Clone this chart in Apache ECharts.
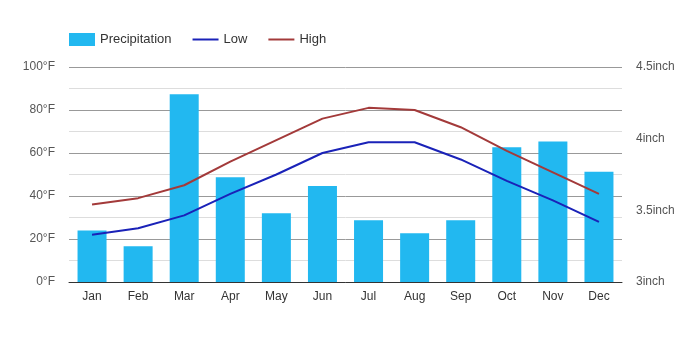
<!DOCTYPE html>
<html>
<head>
<meta charset="utf-8">
<script src="https://cdn.jsdelivr.net/npm/echarts@6/dist/echarts.min.js"></script>
<style>
  html, body { margin: 0; padding: 0; background: #fff; }
  #chart { width: 693px; height: 350px; }
</style>
</head>
<body>
<div id="chart"></div>
<script>
const months = ['Jan', 'Feb', 'Mar', 'Apr', 'May', 'Jun', 'Jul', 'Aug', 'Sep', 'Oct', 'Nov', 'Dec'];
const precipitation = [3.36, 3.25, 4.31, 3.73, 3.48, 3.67, 3.43, 3.34, 3.43, 3.94, 3.98, 3.77];
const lowTemp = [22, 25, 31, 41, 50, 60, 65, 65, 57, 47, 38, 28];
const highTemp = [36, 39, 45, 56, 66, 76, 81, 80, 72, 61, 51, 41];

const font = 'Arial, "Liberation Sans", sans-serif';
// thin horizontal line icon, padded so it keeps the full legend box
const lineIcon = 'path://M0,0L0,0M0,5.5L26,5.5L26,7.5L0,7.5ZM0,13L0,13';

const chart = echarts.init(document.getElementById('chart'));
chart.setOption({
    animation: false,
    textStyle: { fontFamily: font },
    legend: {
        left: 64,
        top: 28,
        itemWidth: 26,
        itemHeight: 13,
        itemGap: 21,
        textStyle: { fontSize: 13, color: '#333', fontFamily: font },
        data: [
            { name: 'Precipitation', icon: 'rect' },
            { name: 'Low', icon: lineIcon },
            { name: 'High', icon: lineIcon }
        ]
    },
    grid: { left: 69, right: 71, top: 67, bottom: 68 },
    xAxis: {
        type: 'category',
        data: months,
        axisTick: { show: false },
        axisLine: { lineStyle: { color: '#333', width: 1 } },
        axisLabel: { color: '#333', fontSize: 12, margin: 9 }
    },
    yAxis: [
        {
            type: 'value',
            min: 0,
            max: 100,
            interval: 20,
            axisLabel: { formatter: '{value}°F', color: '#555', fontSize: 12, margin: 14 },
            axisLine: { show: false },
            axisTick: { show: false },
            splitLine: { lineStyle: { color: '#999' } },
            minorTick: { show: false, splitNumber: 2 },
            minorSplitLine: { show: true, lineStyle: { color: '#ddd' } }
        },
        {
            type: 'value',
            min: 3,
            max: 4.5,
            interval: 0.5,
            axisLabel: { formatter: '{value}inch', color: '#555', fontSize: 12, margin: 14 },
            axisLine: { show: false },
            axisTick: { show: false },
            splitLine: { show: false }
        }
    ],
    series: [
        {
            name: 'Precipitation',
            type: 'bar',
            yAxisIndex: 1,
            data: precipitation,
            barWidth: 29,
            itemStyle: { color: '#22b8f0' },
            z: 1
        },
        {
            name: 'Low',
            type: 'line',
            yAxisIndex: 0,
            data: lowTemp,
            symbol: 'none',
            lineStyle: { color: '#1a22b8', width: 2 },
            itemStyle: { color: '#1a22b8' },
            z: 3
        },
        {
            name: 'High',
            type: 'line',
            yAxisIndex: 0,
            data: highTemp,
            symbol: 'none',
            lineStyle: { color: '#a33a3a', width: 2 },
            itemStyle: { color: '#a33a3a' },
            z: 3
        }
    ]
});
</script>
</body>
</html>
